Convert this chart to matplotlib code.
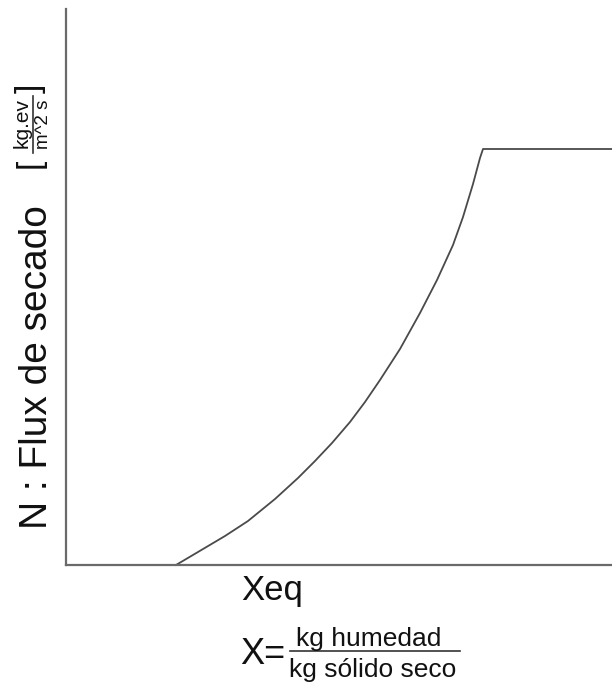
import matplotlib
matplotlib.use('Agg')
import matplotlib.pyplot as plt
from matplotlib.lines import Line2D

plt.rcParams['font.family'] = ['Liberation Sans', 'DejaVu Sans']

# moisture content X (arbitrary units) and drying flux N
x_vals = [1.10, 1.32, 1.59, 1.82, 2.09, 2.32, 2.49, 2.66, 2.84, 2.99,
          3.14, 3.34, 3.54, 3.71, 3.87, 3.97, 4.07, 4.14, 4.17, 5.46]
n_vals = [0.00, 0.13, 0.29, 0.44, 0.66, 0.87, 1.04, 1.22, 1.43, 1.63,
          1.85, 2.16, 2.52, 2.85, 3.20, 3.48, 3.81, 4.07, 4.16, 4.16]
x_max = 5.46
n_max = 5.56

W, H = 612, 682
fig = plt.figure(figsize=(W / 100, H / 100), dpi=100)


def fx(px):
    return px / W


def fy(py):
    return 1 - py / H


ax = fig.add_axes([fx(66), fy(565), fx(612) - fx(66), fy(9) - fy(565)])
ax.plot(x_vals, n_vals, color='#4a4a4a', lw=1.3, solid_joinstyle='round', clip_on=False)
ax.set_xlim(0, x_max)
ax.set_ylim(0, n_max)
ax.set_xticks([])
ax.set_yticks([])
for s in ['top', 'right']:
    ax.spines[s].set_visible(False)
for s in ['left', 'bottom']:
    ax.spines[s].set_color('#6a6a6a')
    ax.spines[s].set_linewidth(1.6)

txt = '#111111'
# y label
fig.text(fx(37), fy(367), 'N : Flux de secado', rotation=90, ha='center', va='center',
         fontsize=28, color=txt)
# units [kg.ev / m^2 s]
fig.text(fx(22), fy(123), 'kg.ev', rotation=90, ha='center', va='center', fontsize=15, color=txt)
fig.text(fx(43), fy(124), 'm^2 s', rotation=90, ha='center', va='center', fontsize=13.5, color=txt)
fig.add_artist(Line2D([fx(33), fx(33)], [fy(96), fy(153)], color='#333333', lw=1.2))
fig.text(fx(30), fy(163), '[', rotation=90, ha='center', va='center', fontsize=24, color=txt)
fig.text(fx(30), fy(88), ']', rotation=90, ha='center', va='center', fontsize=24, color=txt)

# x labels
fig.text(fx(241), fy(600), 'Xeq', ha='left', va='baseline', fontsize=25, color=txt)
fig.text(fx(240), fy(664), 'X=', ha='left', va='baseline', fontsize=26, color=txt)
fig.text(fx(369), fy(646), 'kg humedad', ha='center', va='baseline', fontsize=19, color=txt)
fig.add_artist(Line2D([fx(290), fx(460)], [fy(651), fy(651)], color='#333333', lw=1.2))
fig.text(fx(373), fy(677), 'kg sólido seco', ha='center', va='baseline', fontsize=19, color=txt)

fig.savefig('out.png', dpi=100)
